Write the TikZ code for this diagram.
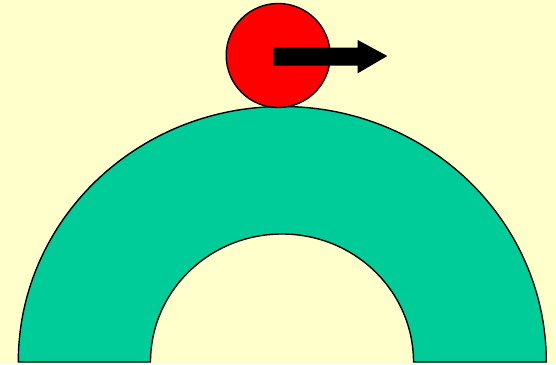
\documentclass[tikz,border=0pt]{standalone}
\definecolor{bgyellow}{HTML}{FFFFCC}
\definecolor{archgreen}{HTML}{00CC99}
\definecolor{ballred}{HTML}{FF0000}
\tikzset{
  outline/.style={draw=black, line width=1.4pt, line join=round},
}
\begin{document}
\begin{tikzpicture}[x=1pt,y=1pt]
\useasboundingbox (0,0) rectangle (556,364);
\fill[bgyellow] (0,0) rectangle (556,364);
% half annulus
\draw[outline, fill=archgreen] (18.3,2) arc[start angle=180, end angle=0, x radius=264, y radius=255.5]
  -- (413.5,2) arc[start angle=0, end angle=180, x radius=131.5, y radius=128] -- cycle;
% ball
\node[outline, fill=ballred, circle, minimum size=104pt, inner sep=0pt] (ball) at (278.2,308.5) {};
% arrow
\fill[black] (273.3,298.3) -- (273.3,316.3) -- (357.7,316.3) -- (357.7,324) -- (387.3,308) -- (357.7,290.7) -- (357.7,298.3) -- cycle;
\end{tikzpicture}
\end{document}
